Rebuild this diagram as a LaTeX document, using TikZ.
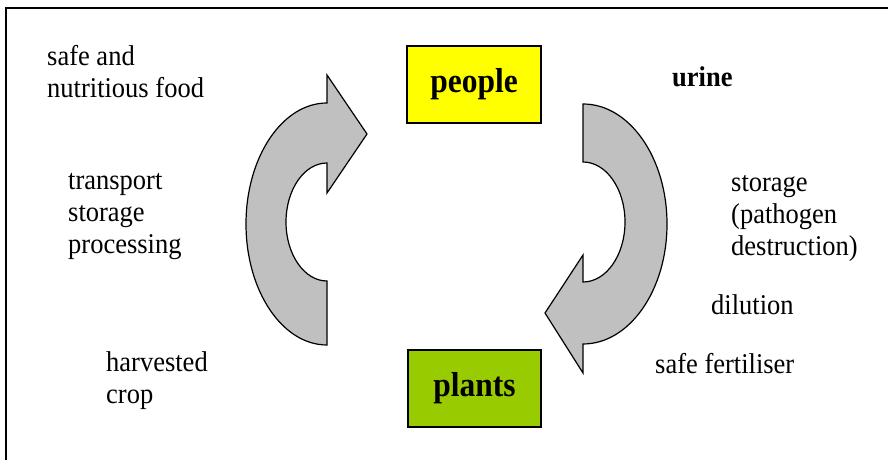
\documentclass[tikz,border=0pt]{standalone}
\usepackage{fontspec}
\usepackage{graphicx}
\setmainfont{Liberation Serif}
\definecolor{boxyellow}{HTML}{FFFF00}
\definecolor{boxgreen}{HTML}{99CC00}
\definecolor{arrowgray}{HTML}{C0C0C0}
\newcommand{\vtxt}[1]{\scalebox{1}[1.08]{\begin{tabular}[t]{@{}l@{}}#1\end{tabular}}}
\tikzset{
  txt/.style={anchor=base west, inner sep=0pt, font=\fontsize{26.5}{29.2}\selectfont},
  btxt/.style={anchor=base west, inner sep=0pt, font=\fontsize{26.5}{29.2}\selectfont\bfseries},
  label box/.style={draw=black, line width=1.2pt, inner sep=0pt, font=\fontsize{31.5}{34}\selectfont\bfseries},
  cyclearrow/.style={draw=black, line width=1.2pt, fill=arrowgray, line join=miter}
}
\begin{document}
\begin{tikzpicture}[x=1pt,y=1pt]
\useasboundingbox (0,0) rectangle (888,460);
% frame
\draw[line width=1.6pt] (888,452) -- (6,452) -- (6,0);
% boxes
\node[label box, fill=boxyellow, minimum width=134pt, minimum height=77pt] (people) at (474,375.5) {\scalebox{1}[1.1]{people}};
\node[label box, fill=boxgreen, minimum width=133pt, minimum height=77pt] (plants) at (474.5,71.5) {\scalebox{1}[1.1]{plants}};
% left arrow (plants -> people)
\draw[cyclearrow] (327,357) -- (327,385) -- (367,326) -- (327,267) -- (327,297)
  arc[start angle=90,end angle=270,x radius=41pt,y radius=59pt] -- (327,115)
  arc[start angle=270,end angle=90,x radius=81pt,y radius=121pt] -- cycle;
% right arrow (people -> plants)
\draw[cyclearrow] (583,356) -- (583,298)
  arc[start angle=90,end angle=-90,x radius=42pt,y radius=60pt] -- (583,205) -- (545,147) -- (583,87) -- (583,116)
  arc[start angle=-90,end angle=90,x radius=84pt,y radius=120pt] -- cycle;
% texts
\node[txt] (food) at (47,394) {\vtxt{safe and\\nutritious food}};
\node[txt] (transport) at (68,270) {\vtxt{transport\\storage\\processing}};
\node[txt] (harvest) at (106,88) {\vtxt{harvested\\crop}};
\node[btxt] (urine) at (672,373) {\vtxt{urine}};
\node[txt] (storage) at (731,268) {\vtxt{storage\\(pathogen\\destruction)}};
\node[txt] (dilution) at (711,145) {\vtxt{dilution}};
\node[txt] (fert) at (655,86) {\vtxt{safe fertiliser}};
\end{tikzpicture}
\end{document}
